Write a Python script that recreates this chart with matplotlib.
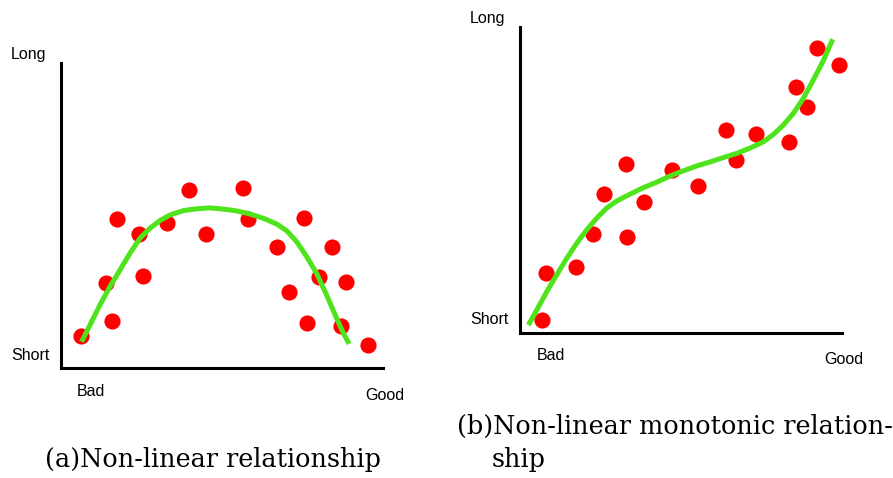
import numpy as np
import matplotlib
matplotlib.use("Agg")
import matplotlib.pyplot as plt

# (a) non-linear relationship: scatter + fitted curve (0-100 units inside axes)
a_x = [6.2, 14.0, 15.8, 17.4, 24.2, 25.5, 32.9, 39.8, 45.0, 56.5,
       58.1, 67.1, 70.8, 75.5, 76.4, 80.1, 84.2, 88.5, 87.0, 95.3]
a_y = [10.5, 27.9, 15.4, 48.9, 43.9, 30.2, 47.5, 58.4, 43.9, 59.0,
       48.9, 39.7, 24.9, 49.2, 14.8, 29.8, 39.7, 28.2, 13.8, 7.5]
a_cx = [6.4, 9.0, 12.1, 15.2, 18.3, 21.4, 24.5, 27.6, 30.7, 33.9,
        38.0, 42.1, 46.3, 50.4, 54.6, 58.7, 62.8, 67.0, 70.1, 73.2,
        76.3, 79.4, 82.5, 85.6, 87.7, 89.5]
a_cy = [8.6, 14.1, 20.7, 26.7, 32.1, 37.6, 42.5, 45.8, 48.3, 50.2,
        51.6, 52.2, 52.5, 52.1, 51.5, 50.5, 49.1, 47.2, 45.0, 41.4,
        36.5, 31.0, 23.9, 16.3, 11.4, 7.9]

# (b) non-linear monotonic relationship
b_x = [6.8, 8.1, 17.4, 22.7, 26.1, 32.9, 33.2, 38.5, 47.2, 55.3,
       64.0, 67.1, 73.3, 83.5, 85.7, 89.1, 92.2, 99.1]
b_y = [4.2, 19.6, 21.6, 32.4, 45.4, 55.2, 31.4, 42.8, 53.3, 48.0,
       66.3, 56.5, 65.0, 62.4, 80.4, 73.9, 93.1, 87.6]
b_cx = [2.6, 5.2, 8.3, 11.4, 14.5, 17.6, 20.7, 23.8, 26.9, 30.0,
        34.2, 38.3, 42.5, 46.6, 50.2, 54.9, 59.0, 63.1, 67.3, 71.4,
        75.6, 78.7, 81.8, 84.9, 88.0, 91.1, 94.2, 97.1]
b_cy = [2.6, 7.5, 13.5, 19.0, 24.4, 29.3, 33.7, 37.5, 40.8, 43.1,
        45.4, 47.5, 49.3, 51.3, 52.8, 54.6, 55.9, 57.3, 58.7, 60.4,
        62.5, 64.9, 68.0, 71.8, 76.7, 82.7, 89.0, 96.0]

W, H = 893, 478
fig = plt.figure(figsize=(W / 100, H / 100), dpi=100)

def px(x, y):
    return x / W, 1 - y / H

def make_ax(left, top, right, bottom):
    ax = fig.add_axes([left / W, 1 - bottom / H, (right - left) / W, (bottom - top) / H])
    ax.set_xlim(0, 100)
    ax.set_ylim(0, 100)
    for s in ["top", "right"]:
        ax.spines[s].set_visible(False)
    for s in ["left", "bottom"]:
        ax.spines[s].set_linewidth(2.2)
        ax.spines[s].set_color("black")
    ax.set_xticks([])
    ax.set_yticks([])
    return ax

green = "#4ee31a"
red = "#ff0000"

ax1 = make_ax(61, 63, 383, 368)
ax1.scatter(a_x, a_y, s=135, color=red, zorder=2, clip_on=False, linewidths=0)
ax1.plot(a_cx, a_cy, color=green, lw=3.6, zorder=3, solid_capstyle="butt",
         solid_joinstyle="round")

ax2 = make_ax(520, 27, 842, 333)
ax2.scatter(b_x, b_y, s=135, color=red, zorder=2, clip_on=False, linewidths=0)
ax2.plot(b_cx, b_cy, color=green, lw=3.6, zorder=3, solid_capstyle="butt",
         solid_joinstyle="round")

lab = dict(fontsize=11.5, family="Liberation Sans", ha="left", va="center")
fig.text(*px(11, 55), "Long", **lab)
fig.text(*px(11, 356), "Short", **lab)
fig.text(*px(77, 392), "Bad", **lab)
fig.text(*px(365, 395), "Good", **lab)
fig.text(*px(470, 19), "Long", **lab)
fig.text(*px(470, 320), "Short", **lab)
fig.text(*px(537, 356), "Bad", **lab)
fig.text(*px(824, 359), "Good", **lab)

cap = dict(fontsize=18.4, family="DejaVu Serif", ha="left", va="center")
fig.text(*px(45, 460), "(a)Non-linear relationship", **cap)
fig.text(*px(457, 426), "(b)Non-linear monotonic relation-", **cap)
fig.text(*px(492, 460), "ship", **cap)

fig.savefig("out.png", dpi=100)
